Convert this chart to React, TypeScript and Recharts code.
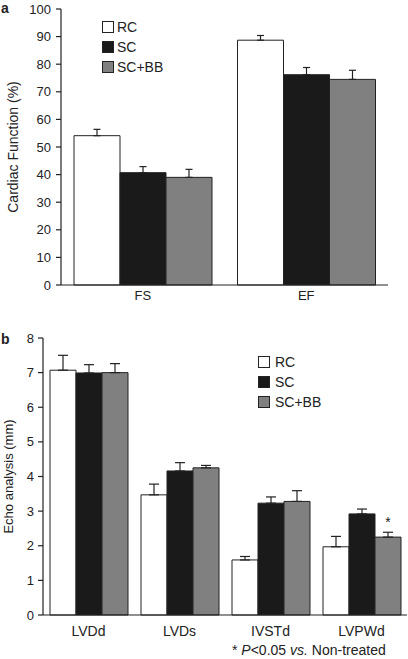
import React from 'react';
import { BarChart, Bar, XAxis, YAxis, ErrorBar, Legend, Label, LabelList } from 'recharts';

const catsA = ['FS', 'EF'];
const rcA = [54.1, 88.7];
const rcErrA = [2.3, 1.7];
const scA = [40.7, 76.2];
const scErrA = [2.2, 2.6];
const sbA = [39.0, 74.5];
const sbErrA = [2.9, 3.3];
const ticksA = [0, 10, 20, 30, 40, 50, 60, 70, 80, 90, 100];

const catsB = ['LVDd', 'LVDs', 'IVSTd', 'LVPWd'];
const rcB = [7.07, 3.47, 1.59, 1.97];
const rcErrB = [0.43, 0.31, 0.1, 0.3];
const scB = [6.99, 4.16, 3.23, 2.92];
const scErrB = [0.24, 0.24, 0.18, 0.14];
const sbB = [7.0, 4.25, 3.28, 2.25];
const sbErrB = [0.26, 0.07, 0.31, 0.14];
const sigB = ['', '', '', '*'];
const ticksB = [0, 1, 2, 3, 4, 5, 6, 7, 8];

const INK = '#222';
const FONT = '"Liberation Sans", Arial, sans-serif';

const dataA = catsA.map((c, i) => ({
  name: c,
  rc: rcA[i], rcErr: [0, rcErrA[i]],
  sc: scA[i], scErr: [0, scErrA[i]],
  sb: sbA[i], sbErr: [0, sbErrA[i]],
}));

const dataB = catsB.map((c, i) => ({
  name: c,
  rc: rcB[i], rcErr: [0, rcErrB[i]],
  sc: scB[i], scErr: [0, scErrB[i]],
  sb: sbB[i], sbErr: [0, sbErrB[i]],
  sig: sigB[i],
}));

// small tick marks at the category boundaries
const sepTick = (up: number, down: number) => (props: any) => (
  <line x1={props.x} x2={props.x} y1={props.y - up} y2={props.y + down} stroke={INK} strokeWidth={1.2} />
);

const legendContent = (gap: number) => (props: any) => (
  <div style={{ fontSize: 14, color: INK, fontFamily: FONT }}>
    {(props.payload ?? []).map((e: any) => (
      <div key={e.value} style={{ display: 'flex', alignItems: 'center', height: 20 }}>
        <svg width={12} height={12}>
          <rect x={0.5} y={0.5} width={11} height={11} fill={e.color} stroke={INK} />
        </svg>
        <span style={{ marginLeft: gap }}>{e.value}</span>
      </div>
    ))}
  </div>
);

export default function App() {
  return (
    <div style={{ position: 'absolute', left: 0, top: 0, width: 408, height: 659, background: '#fff', fontFamily: FONT, color: INK }}>
      <span style={{ position: 'absolute', left: 1, top: 1, fontSize: 14, fontWeight: 'bold', lineHeight: '14px' }}>a</span>
      <span style={{ position: 'absolute', left: 1, top: 332, fontSize: 14, fontWeight: 'bold', lineHeight: '14px' }}>b</span>

      <div style={{ position: 'absolute', left: 0, top: 0 }}>
        <BarChart width={408} height={320} data={dataA} margin={{ top: 9, right: 20, bottom: 0, left: 0 }} barGap={0} barCategoryGap={13}>
          <XAxis dataKey="name" height={35} tickLine={false} tickSize={0} tickMargin={6} axisLine={{ stroke: INK, strokeWidth: 1.2 }} tick={{ fontSize: 13, fill: INK }} />
          <XAxis xAxisId="sep" type="number" domain={[0, 2]} ticks={[1, 2]} mirror height={0} axisLine={false} tickLine={false} tickSize={0} tickMargin={0} tick={sepTick(3, 4)} allowDataOverflow />
          <YAxis width={61} domain={[0, 100]} ticks={ticksA} tickSize={5} tickMargin={5} axisLine={{ stroke: INK, strokeWidth: 1.2 }} tickLine={{ stroke: INK, strokeWidth: 1.2 }} tick={{ fontSize: 13, fill: INK }}>
            <Label value="Cardiac Function (%)" angle={-90} position="center" dx={-17} style={{ fontSize: 14, fill: INK }} />
          </YAxis>
          <Legend layout="vertical" align="center" verticalAlign="middle" wrapperStyle={{ left: 102, top: 17, width: 'auto' }} content={legendContent(3)} />
          <Bar dataKey="rc" name="RC" fill="#ffffff" stroke={INK} strokeWidth={1} isAnimationActive={false}>
            <ErrorBar dataKey="rcErr" width={3.5} stroke={INK} strokeWidth={1.2} />
          </Bar>
          <Bar dataKey="sc" name="SC" fill="#1a1a1a" stroke={INK} strokeWidth={1} isAnimationActive={false}>
            <ErrorBar dataKey="scErr" width={3.5} stroke={INK} strokeWidth={1.2} />
          </Bar>
          <Bar dataKey="sb" name="SC+BB" fill="#808080" stroke={INK} strokeWidth={1} isAnimationActive={false}>
            <ErrorBar dataKey="sbErr" width={3.5} stroke={INK} strokeWidth={1.2} />
          </Bar>
        </BarChart>
      </div>

      <div style={{ position: 'absolute', left: 0, top: 320 }}>
        <BarChart width={408} height={339} data={dataB} margin={{ top: 18, right: 1, bottom: 0, left: 0 }} barGap={0} barCategoryGap={7}>
          <XAxis dataKey="name" height={44} tickLine={false} tickSize={0} tickMargin={11} axisLine={{ stroke: INK, strokeWidth: 1.2 }} tick={{ fontSize: 14, fill: INK }} />
          <XAxis xAxisId="sep" type="number" domain={[0, 4]} ticks={[1, 2, 3]} mirror height={0} axisLine={false} tickLine={false} tickSize={0} tickMargin={0} tick={sepTick(5, 0)} allowDataOverflow />
          <YAxis width={43} domain={[0, 8]} ticks={ticksB} tickSize={5} tickMargin={4} axisLine={{ stroke: INK, strokeWidth: 1.2 }} tickLine={{ stroke: INK, strokeWidth: 1.2 }} tick={{ fontSize: 13, fill: INK }}>
            <Label value="Echo analysis (mm)" angle={-90} position="center" dx={-13.5} style={{ fontSize: 13, fill: INK }} />
          </YAxis>
          <Legend layout="vertical" align="center" verticalAlign="middle" wrapperStyle={{ left: 258, top: 32, width: 'auto' }} content={legendContent(5)} />
          <Bar dataKey="rc" name="RC" fill="#ffffff" stroke={INK} strokeWidth={1} isAnimationActive={false}>
            <ErrorBar dataKey="rcErr" width={5} stroke={INK} strokeWidth={1.2} />
          </Bar>
          <Bar dataKey="sc" name="SC" fill="#1a1a1a" stroke={INK} strokeWidth={1} isAnimationActive={false}>
            <ErrorBar dataKey="scErr" width={5} stroke={INK} strokeWidth={1.2} />
          </Bar>
          <Bar dataKey="sb" name="SC+BB" fill="#808080" stroke={INK} strokeWidth={1} isAnimationActive={false}>
            <ErrorBar dataKey="sbErr" width={5} stroke={INK} strokeWidth={1.2} />
            <LabelList dataKey="sig" position="top" offset={10} style={{ fontSize: 14, fill: INK }} />
          </Bar>
        </BarChart>
      </div>

      <div style={{ position: 'absolute', left: 232, top: 642, fontSize: 14, whiteSpace: 'nowrap' }}>
        * <i>P</i>&lt;0.05 <i>vs.</i> Non-treated
      </div>
    </div>
  );
}
